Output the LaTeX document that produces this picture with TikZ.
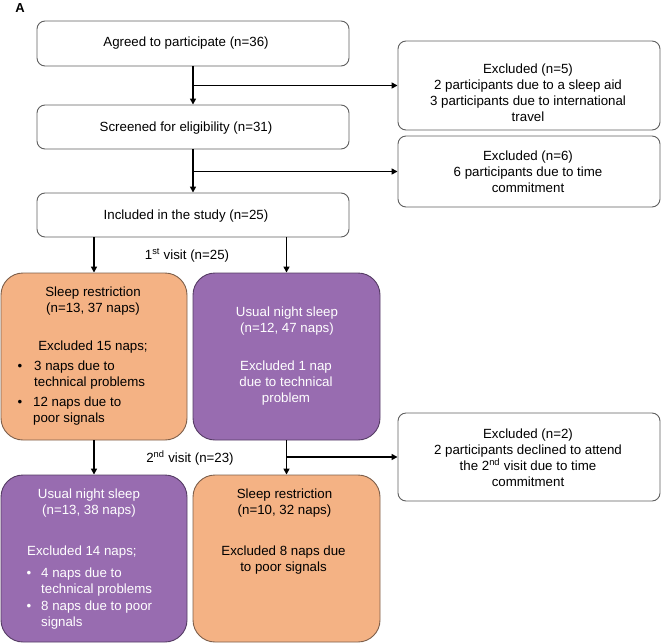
\documentclass[tikz,border=0pt]{standalone}
\usepackage{fontspec}
\setmainfont{Liberation Sans}
\usetikzlibrary{arrows.meta}
\definecolor{peach}{RGB}{244,178,132}
\definecolor{plum}{RGB}{152,108,176}
\definecolor{edgegray}{RGB}{95,95,95}
\definecolor{peachedge}{RGB}{125,95,75}
\definecolor{plumedge}{RGB}{85,60,100}
\begin{document}
\begin{tikzpicture}[x=1pt,y=-1pt,
  wbox/.style={draw=edgegray, line width=0.9pt, rounded corners=8pt, fill=white, inner sep=0pt},
  obox/.style={draw=peachedge, line width=0.9pt, rounded corners=22pt, fill=peach, inner sep=0pt},
  pbox/.style={draw=plumedge, line width=0.9pt, rounded corners=22pt, fill=plum, inner sep=0pt},
  txt/.style={font=\fontsize{13.3}{16}\selectfont, align=center, inner sep=0pt},
  ltxt/.style={txt, align=left, anchor=west},
  wtxt/.style={txt, text=white},
  wltxt/.style={ltxt, text=white},
  arr/.style={line width=1.5pt, draw=black, -{Triangle[length=6pt,width=6pt]}}
]
\useasboundingbox (0,0) rectangle (661,643);

\node[font=\fontsize{13}{15}\selectfont\bfseries, inner sep=0pt] (lblA) at (20,8) {A};

% white boxes
\node[wbox, minimum width=312pt, minimum height=45pt] (agreed) at (193,43.5) {};
\node[wbox, minimum width=312pt, minimum height=44pt] (screened) at (193,127) {};
\node[wbox, minimum width=312pt, minimum height=44pt] (included) at (193,215) {};
\node[wbox, minimum width=262pt, minimum height=89pt] (exc1) at (529,85.5) {};
\node[wbox, minimum width=262pt, minimum height=71pt] (exc2) at (529,171.5) {};
\node[wbox, minimum width=262pt, minimum height=88pt] (exc3) at (529,457) {};

% coloured boxes
\node[obox, minimum width=186pt, minimum height=167pt] (orange1) at (94,356.5) {};
\node[pbox, minimum width=187pt, minimum height=167pt] (purple1) at (286.5,356.5) {};
\node[pbox, minimum width=186pt, minimum height=167pt] (purple2) at (94,558.5) {};
\node[obox, minimum width=187pt, minimum height=167pt] (orange2) at (286.5,558.5) {};

% texts
\node[txt] (agreedT) at (186,43.5) {Agreed to participate (n=36)};
\node[txt] (screenedT) at (186,128) {Screened for eligibility (n=31)};
\node[txt] (includedT) at (186,216) {Included in the study (n=25)};
\node[txt] (exc1T) at (528,93) {Excluded (n=5)\\2 participants due to a sleep aid\\3 participants due to international\\travel};
\node[txt] (exc2T) at (528,171.5) {Excluded (n=6)\\6 participants due to time\\commitment};
\node[txt] (exc3T) at (528,458) {Excluded (n=2)\\2 participants declined to attend\\the 2\textsuperscript{nd} visit due to time\\commitment};
\node[txt] (visit1) at (187,255) {1\textsuperscript{st} visit (n=25)};
\node[txt] (visit2) at (190,458) {2\textsuperscript{nd} visit (n=23)};

% orange 1
\node[txt] (o1a) at (93,301.5) {Sleep restriction\\(n=13, 37 naps)};
\node[txt] (o1b) at (93,347) {Excluded 15 naps;};
\node[txt] (o1bul1) at (20,367) {•};
\node[ltxt] (o1c) at (34,375) {3 naps due to\\technical problems};
\node[txt] (o1bul2) at (20,403) {•};
\node[ltxt] (o1d) at (33,411.5) {12 naps due to\\poor signals};

% purple 1
\node[wtxt] (p1a) at (287,321) {Usual night sleep\\(n=12, 47 naps)};
\node[wtxt] (p1b) at (286,383) {Excluded 1 nap\\due to technical\\problem};

% purple 2
\node[wtxt] (p2a) at (89,503) {Usual night sleep\\(n=13, 38 naps)};
\node[wltxt] (p2b) at (27,552) {Excluded 14 naps;};
\node[wtxt] (p2bul1) at (29,574) {•};
\node[wltxt] (p2c) at (41,582) {4 naps due to\\technical problems};
\node[wtxt] (p2bul2) at (29,607) {•};
\node[wltxt] (p2d) at (41,615) {8 naps due to poor\\signals};

% orange 2
\node[txt] (o2a) at (284.5,503) {Sleep restriction\\(n=10, 32 naps)};
\node[txt] (o2b) at (283.5,560) {Excluded 8 naps due\\to poor signals};

% connectors
\draw[arr] (agreed.south) -- (screened.north);
\draw[arr] (agreed.south |- exc1.west) -- (exc1.west);
\draw[arr] (screened.south) -- (included.north);
\draw[arr] (screened.south |- exc2.west) -- (exc2.west);
\draw[arr] (included.south -| orange1.north) -- (orange1.north);
\draw[arr] (included.south -| purple1.north) -- (purple1.north);
\draw[arr] (orange1.south) -- (purple2.north);
\draw[arr] (purple1.south) -- (orange2.north);
\draw[arr] (purple1.south |- exc3.west) -- (exc3.west);
\end{tikzpicture}
\end{document}
